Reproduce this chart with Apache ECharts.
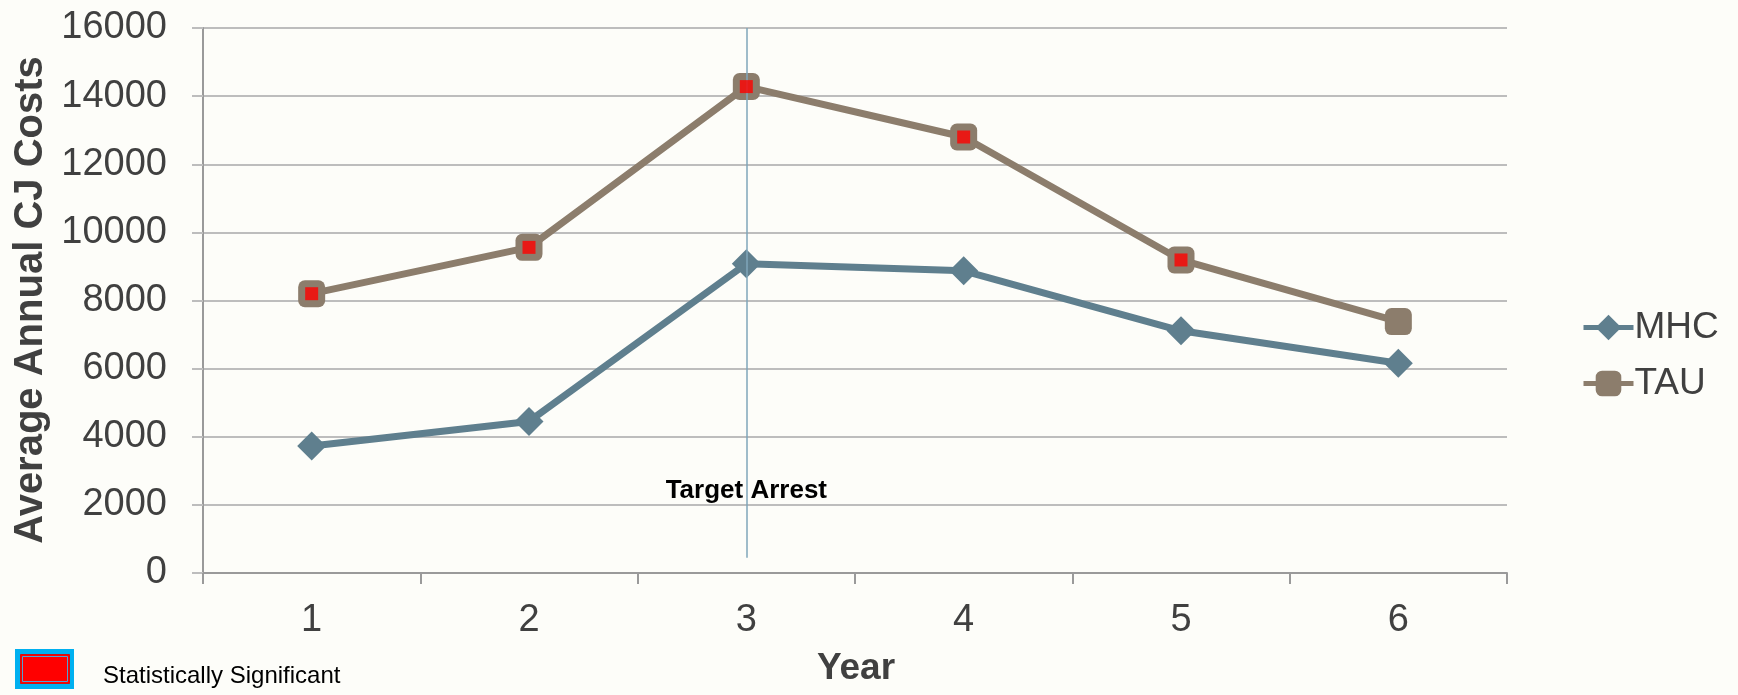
<!DOCTYPE html>
<html>
<head>
<meta charset="utf-8">
<script src="https://cdn.jsdelivr.net/npm/echarts@6/dist/echarts.min.js"></script>
<style>
html,body{margin:0;padding:0;background:#FDFDF9;}
#c{width:1738px;height:695px;}
</style>
</head>
<body>
<div id="c"></div>
<script>
const categories = ['1', '2', '3', '4', '5', '6'];
const mhc = [3730, 4450, 9080, 8870, 7110, 6160];
const tau = [8200, 9560, 14280, 12800, 9190, 7380];
const tauSignificant = [1, 1, 1, 1, 1, 0];
const yTicks = { min: 0, max: 16000, interval: 2000 };
const markerYear = '3';
const markerLabel = 'Target Arrest';
const sigLabel = 'Statistically Significant';

const FONT = '"Liberation Sans", Arial, sans-serif';
const MHC_COLOR = '#5F7F8E';
const TAU_COLOR = '#8C7D6C';
const TXT = '#404040';

const chart = echarts.init(document.getElementById('c'), null, { renderer: 'canvas' });
const sigData = tau.map((v, i) => tauSignificant[i] ? v : null);

chart.setOption({
  backgroundColor: '#FDFDF9',
  animation: false,
  grid: { left: 203, right: 231, top: 28, bottom: 122 },
  legend: {
    data: [
      { name: 'MHC', lineStyle: { width: 5, color: MHC_COLOR } },
      { name: 'TAU', lineStyle: { width: 5, color: TAU_COLOR } }
    ],
    orient: 'vertical',
    left: 1576,
    top: 304,
    itemWidth: 50,
    itemHeight: 32,
    itemGap: 19,
    textStyle: { fontFamily: FONT, fontSize: 37, color: TXT, padding: [0, 0, 0, -4] }
  },
  xAxis: {
    type: 'category',
    data: categories,
    axisLine: { lineStyle: { color: '#9A9A9A', width: 2 } },
    axisTick: { show: true, length: 11, lineStyle: { color: '#9A9A9A', width: 2 } },
    axisLabel: { fontFamily: FONT, fontSize: 38, color: TXT, margin: 29 },
    splitLine: { show: false }
  },
  yAxis: {
    type: 'value',
    min: yTicks.min, max: yTicks.max, interval: yTicks.interval,
    axisLine: { show: true, lineStyle: { color: '#9A9A9A', width: 2 } },
    axisTick: { show: true, length: 11, lineStyle: { color: '#BDBDBD', width: 2 } },
    axisLabel: { fontFamily: FONT, fontSize: 38, color: TXT, margin: 36, formatter: v => String(v) },
    splitLine: { lineStyle: { color: '#BDBDBD', width: 2 } }
  },
  graphic: [
    {
      type: 'text', x: 31, y: 300, rotation: Math.PI / 2,
      style: { text: 'Average Annual CJ Costs', font: 'bold 40px ' + FONT, fill: TXT, align: 'center', verticalAlign: 'middle' }
    },
    {
      type: 'text', x: 856, y: 669,
      style: { text: 'Year', font: 'bold 37px ' + FONT, fill: TXT, align: 'center', verticalAlign: 'middle' }
    },
    { type: 'rect', shape: { x: 15, y: 649, width: 59, height: 40 }, style: { fill: '#00B0F0' } },
    { type: 'rect', shape: { x: 20.5, y: 654.5, width: 49, height: 29 }, style: { fill: '#FF0000', stroke: '#D01010', lineWidth: 1 } },
    { type: 'rect', shape: { x: 22.5, y: 656.5, width: 45, height: 25 }, style: { fill: '#FF0000', stroke: '#4FA3D6', lineWidth: 1 } },
    {
      type: 'text', x: 103, y: 676,
      style: { text: sigLabel, font: '24px ' + FONT, fill: '#000000', align: 'left', verticalAlign: 'middle' }
    }
  ],
  series: [
    {
      name: 'MHC', type: 'line', data: mhc,
      symbol: 'diamond', symbolSize: 29,
      itemStyle: { color: MHC_COLOR, borderWidth: 0 },
      lineStyle: { color: MHC_COLOR, width: 7 },
      z: 3,
      markLine: {
        silent: true, symbol: 'none',
        lineStyle: { color: '#7FA6BA', width: 1.5, type: 'solid' },
        label: { show: false },
        data: [[{ xAxis: markerYear, yAxis: 16000 }, { xAxis: markerYear, yAxis: 450 }]]
      },
      markPoint: {
        silent: true,
        symbol: 'rect', symbolSize: 0,
        label: { show: true, position: 'inside', formatter: markerLabel, fontFamily: FONT, fontWeight: 'bold', fontSize: 26, color: '#000000' },
        data: [{ coord: [markerYear, 2420] }]
      }
    },
    {
      name: 'TAU', type: 'line', data: tau,
      symbol: 'roundRect', symbolSize: 27,
      itemStyle: { color: TAU_COLOR, borderWidth: 0 },
      lineStyle: { color: TAU_COLOR, width: 7 },
      z: 4
    },
    {
      name: 'sig', type: 'scatter', data: sigData,
      symbol: 'rect', symbolSize: 13,
      itemStyle: { color: '#FF0000' },
      z: 5
    }
  ]
});
</script>
</body>
</html>
